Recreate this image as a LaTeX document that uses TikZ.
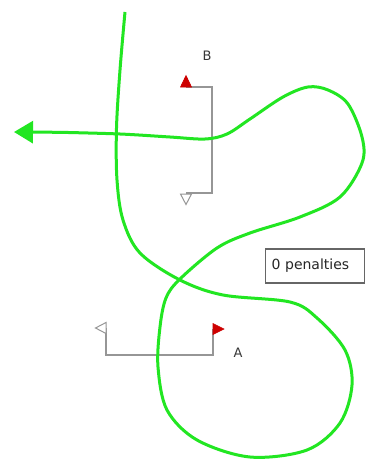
\documentclass[tikz,border=0pt]{standalone}
\usepackage{fontspec}
\setmainfont{DejaVu Sans}
\usetikzlibrary{arrows.meta}
\definecolor{trackgreen}{RGB}{34,230,34}
\definecolor{gategray}{RGB}{150,150,150}
\definecolor{flagred}{RGB}{205,0,0}
\definecolor{labelgray}{RGB}{55,55,55}
\tikzset{
  gateline/.style={draw=gategray, line width=1.3pt},
  redflag/.style={fill=flagred, draw=flagred, line width=0.6pt},
  whiteflag/.style={fill=white, draw=gategray, line width=1pt},
  track/.style={draw=trackgreen, line width=3pt},
  gatelabel/.style={text=labelgray, font=\fontsize{13}{14}\selectfont, inner sep=0pt},
  penaltybox/.style={draw=gray!80!black, line width=1.1pt, fill=white, anchor=west,
    minimum width=99pt, minimum height=34pt, inner xsep=6pt, text width=87pt, align=left,
    font=\fontsize{14}{15}\selectfont, text=black!85}
}
\begin{document}
\begin{tikzpicture}[x=1pt,y=-1pt]
\useasboundingbox[fill=white] (0,0) rectangle (366,460);

% gate B
\coordinate (b1) at (186,87);
\coordinate (b2) at (212,87);
\coordinate (b3) at (212,193);
\coordinate (b4) at (186,193);
\draw[gateline] (b1) -- (b2) -- (b3) -- (b4);
\fill[redflag] (180.5,87) -- (186,75.5) -- (191.5,87) -- cycle;
\draw[whiteflag] (180.5,194) -- (186,204.5) -- (191.5,194) -- cycle;
\node[gatelabel] (labB) at (207,56) {B};

% gate A
\coordinate (a1) at (106,328);
\coordinate (a2) at (106,355);
\coordinate (a3) at (213,355);
\coordinate (a4) at (213,329);
\draw[gateline] (a1) -- (a2) -- (a3) -- (a4);
\draw[whiteflag] (106,322.5) -- (95.5,328) -- (106,333.5) -- cycle;
\fill[redflag] (213,323.5) -- (224,329) -- (213,334.5) -- cycle;
\node[gatelabel] (labA) at (238,353) {A};

% penalty box
\node[penaltybox] (pen) at (265,266) {0 penalties};

% track
\draw[track] plot[smooth, tension=0.55] coordinates {
 (125,12) (120,70) (116.5,128) (117,180) (123,220) (140,253) (180,280)
 (223,295) (290,302) (317,318) (345,350) (352,385) (340,423) (307,450)
 (250,457) (197,440) (167,410) (158,367) (160,327) (166,298) (180,279)
 (217,248) (250,233) (300,217) (340,197) (362,163) (362,137) (348,104)
 (328,90) (308,87) (283,97) (250,119) (227,134) (205,139) (170,137)
 (120,134) (60,132.3)};
\coordinate (tailend) at (60,132.3);
\coordinate (tip) at (14,132);
\draw[track, -{Triangle[length=19pt,width=22pt]}] (tailend) -- (tip);
\end{tikzpicture}
\end{document}
